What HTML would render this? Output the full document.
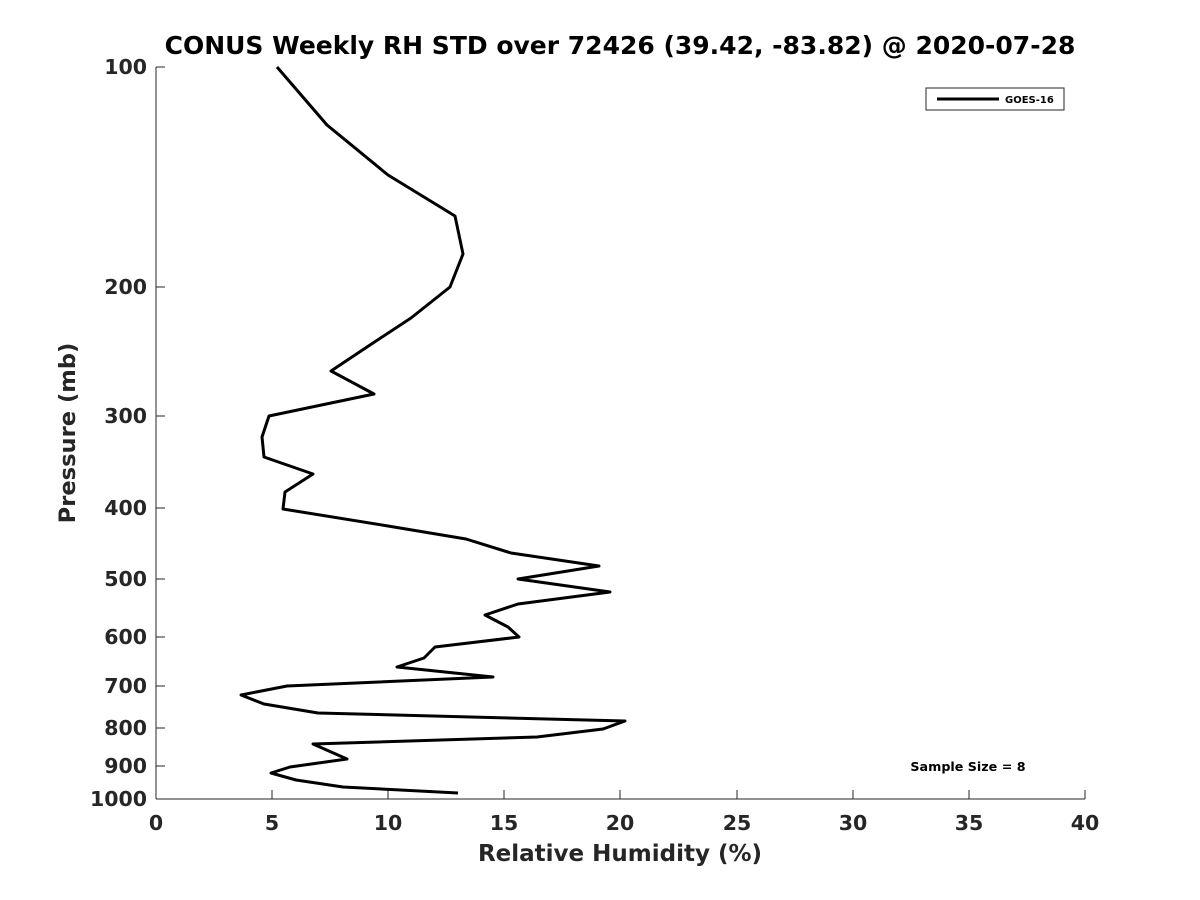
<!DOCTYPE html>
<html><head><meta charset="utf-8"><style>
html,body{margin:0;padding:0;background:#fff;}
svg{display:block;font-family:"DejaVu Sans","Liberation Sans",sans-serif;}
</style></head><body>
<svg width="1200" height="900" xmlns="http://www.w3.org/2000/svg">
<rect width="1200" height="900" fill="#fff"/>
<text x="620" y="54" font-size="25" font-weight="bold" text-anchor="middle" fill="#000">CONUS Weekly RH STD over 72426 (39.42, -83.82) @ 2020-07-28</text>
<g stroke="#262626" stroke-width="1" fill="none">
<line x1="156" y1="67" x2="156" y2="799"/>
<line x1="156" y1="799" x2="1085" y2="799"/>
<line x1="156" y1="799" x2="156" y2="790"/><line x1="272" y1="799" x2="272" y2="790"/><line x1="388" y1="799" x2="388" y2="790"/><line x1="504" y1="799" x2="504" y2="790"/><line x1="620" y1="799" x2="620" y2="790"/><line x1="737" y1="799" x2="737" y2="790"/><line x1="853" y1="799" x2="853" y2="790"/><line x1="969" y1="799" x2="969" y2="790"/><line x1="1085" y1="799" x2="1085" y2="790"/>
<line x1="156" y1="67" x2="165" y2="67"/><line x1="156" y1="287" x2="165" y2="287"/><line x1="156" y1="416" x2="165" y2="416"/><line x1="156" y1="508" x2="165" y2="508"/><line x1="156" y1="579" x2="165" y2="579"/><line x1="156" y1="637" x2="165" y2="637"/><line x1="156" y1="686" x2="165" y2="686"/><line x1="156" y1="728" x2="165" y2="728"/><line x1="156" y1="766" x2="165" y2="766"/>
</g>
<g font-size="20.5" font-weight="bold" fill="#262626" text-anchor="middle">
<text x="156" y="830">0</text><text x="272" y="830">5</text><text x="388" y="830">10</text><text x="504" y="830">15</text><text x="620" y="830">20</text><text x="737" y="830">25</text><text x="853" y="830">30</text><text x="969" y="830">35</text><text x="1085" y="830">40</text>
</g>
<g font-size="20.5" font-weight="bold" fill="#262626" text-anchor="end">
<text x="147" y="74">100</text><text x="147" y="294">200</text><text x="147" y="423">300</text><text x="147" y="515">400</text><text x="147" y="586">500</text><text x="147" y="644">600</text><text x="147" y="693">700</text><text x="147" y="735">800</text><text x="147" y="773">900</text><text x="147" y="806">1000</text>
</g>
<text x="620" y="861" font-size="23" font-weight="bold" fill="#262626" text-anchor="middle">Relative Humidity (%)</text>
<text transform="translate(75,433) rotate(-90)" font-size="22.6" font-weight="bold" fill="#262626" text-anchor="middle">Pressure (mb)</text>
<polyline fill="none" stroke="#000" stroke-width="3" stroke-linejoin="round" points="277,67 327,125 388,175 455,216 463,254 450,287 411,318 370,345 331,371 374,394 269,416 262,437 264,457 313,474 285,492 283,509 388,526 466,539 511,553 599,566 518,579 610,592 518,604 485,615 508,627 519,637 435,647 424,658 397,667 493,677 287,686 241,695 264,704 318,713 625,721 603,729 537,737 313,744 347,759 290,767 271,773 296,780 343,787 458,793"/>
<rect x="926" y="88" width="138" height="22" fill="#fff" stroke="#262626" stroke-width="1"/>
<line x1="937" y1="99" x2="999" y2="99" stroke="#000" stroke-width="3"/>
<text x="1005" y="103" font-size="10" font-weight="bold" fill="#000">GOES-16</text>
<text x="968" y="771" font-size="12.7" font-weight="bold" fill="#000" text-anchor="middle">Sample Size = 8</text>
</svg>
</body></html>
